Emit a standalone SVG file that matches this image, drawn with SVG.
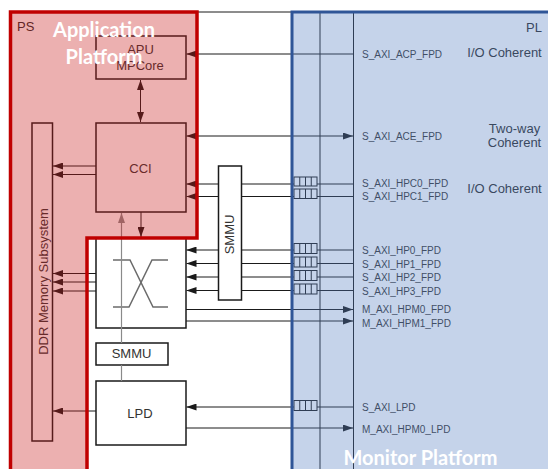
<svg xmlns="http://www.w3.org/2000/svg" width="548" height="469" viewBox="0 0 548 469">
<defs>
<style>
.ln{stroke:#1a1a1a;stroke-width:1;fill:none}
.gl{stroke:#8a8a8a;stroke-width:1.2;fill:none}
.box{fill:#fff;stroke:#1a1a1a;stroke-width:1.5}
.fifo{fill:#fff;stroke:#1a1a1a;stroke-width:1}
.xb{stroke:#6b6b6b;stroke-width:1.5;fill:none}
.lbl{font-family:"Liberation Sans",Arial,sans-serif;font-size:13px;fill:#333;text-anchor:middle}
.port{font-family:"Liberation Sans",Arial,sans-serif;font-size:10px;fill:#333}
.cap{font-family:"Liberation Sans",Arial,sans-serif;font-size:13px;fill:#2a2a2a}
.ov{font-family:Lato,"Open Sans",sans-serif;font-weight:bold;font-size:20px;fill:#fff;text-anchor:middle}
</style>
<marker id="ah" viewBox="0 0 10 7" refX="10" refY="3.5" markerWidth="10" markerHeight="7" markerUnits="userSpaceOnUse" orient="auto-start-reverse"><path d="M0,0 L10,3.5 L0,7 z" fill="#1a1a1a"/></marker>
<marker id="ahg" viewBox="0 0 10 7" refX="10" refY="3.5" markerWidth="10" markerHeight="7" markerUnits="userSpaceOnUse" orient="auto"><path d="M0,0 L10,3.5 L0,7 z" fill="#8a8a8a"/></marker>
</defs>
<rect x="0" y="0" width="548" height="469" fill="#fff"/>

<g id="frame">
<line class="ln" x1="10" y1="12" x2="292" y2="12"/>
<line class="ln" x1="320" y1="12" x2="320" y2="469"/>
<line class="ln" x1="353.5" y1="12" x2="353.5" y2="469"/>
<text class="cap" x="17" y="30.5">PS</text>
<text class="cap" x="526" y="31.5">PL</text>
</g>

<g id="apu"><rect class="box" x="96" y="36" width="90" height="43"/><text class="lbl" x="140.5" y="54">APU</text><text class="lbl" x="140" y="70">MPCore</text></g>
<g id="cci"><rect class="box" x="96" y="123" width="90" height="89"/><text class="lbl" x="140.5" y="172.5">CCI</text></g>
<g id="ddr"><rect class="box" x="32" y="123" width="20.5" height="318"/><text class="lbl" transform="translate(47.5,281.5) rotate(-90)">DDR Memory Subsystem</text></g>
<g id="crossbar"><rect class="box" x="96" y="238" width="90" height="90"/><path class="xb" d="M113,260 H130 L153,307 H168"/><path class="xb" d="M113,307 H129 L152,260 H168"/></g>
<g id="smmu-v"><rect class="box" x="218.5" y="166" width="23" height="134"/><text class="lbl" transform="translate(234,234.5) rotate(-90)">SMMU</text></g>
<g id="smmu-h"><rect class="box" x="96" y="343" width="72" height="22"/><text class="lbl" x="131.5" y="358">SMMU</text></g>
<g id="lpd"><rect class="box" x="96" y="381" width="90" height="64"/><text class="lbl" x="140" y="418">LPD</text></g>

<g id="connectors">
<line class="ln" x1="353.5" y1="54" x2="186.5" y2="54" marker-end="url(#ah)"/>
<line class="ln" x1="140.5" y1="80" x2="140.5" y2="122" marker-start="url(#ah)" marker-end="url(#ah)"/>
<line class="ln" x1="186.5" y1="136" x2="353" y2="136" marker-start="url(#ah)" marker-end="url(#ah)"/>
<line class="ln" x1="218.5" y1="184" x2="186.5" y2="184" marker-end="url(#ah)"/>
<line class="ln" x1="353.5" y1="184" x2="241.5" y2="184"/>
<line class="ln" x1="218.5" y1="196.5" x2="186.5" y2="196.5" marker-end="url(#ah)"/>
<line class="ln" x1="353.5" y1="196.5" x2="241.5" y2="196.5"/>
<line class="ln" x1="96" y1="166" x2="53" y2="166" marker-end="url(#ah)"/>
<line class="ln" x1="96" y1="174.5" x2="53" y2="174.5" marker-end="url(#ah)"/>
<line class="ln" x1="141" y1="212" x2="141" y2="237" marker-end="url(#ah)"/>
<line class="ln" x1="218.5" y1="250" x2="186.5" y2="250" marker-end="url(#ah)"/>
<line class="ln" x1="353.5" y1="250" x2="241.5" y2="250"/>
<line class="ln" x1="218.5" y1="263.5" x2="186.5" y2="263.5" marker-end="url(#ah)"/>
<line class="ln" x1="353.5" y1="263.5" x2="241.5" y2="263.5"/>
<line class="ln" x1="218.5" y1="277" x2="186.5" y2="277" marker-end="url(#ah)"/>
<line class="ln" x1="353.5" y1="277" x2="241.5" y2="277"/>
<line class="ln" x1="218.5" y1="290.5" x2="186.5" y2="290.5" marker-end="url(#ah)"/>
<line class="ln" x1="353.5" y1="290.5" x2="241.5" y2="290.5"/>
<line class="ln" x1="96" y1="273.5" x2="53" y2="273.5" marker-end="url(#ah)"/>
<line class="ln" x1="96" y1="282" x2="53" y2="282" marker-end="url(#ah)"/>
<line class="ln" x1="96" y1="291" x2="53" y2="291" marker-end="url(#ah)"/>
<line class="ln" x1="186" y1="309.5" x2="353" y2="309.5" marker-end="url(#ah)"/>
<line class="ln" x1="186" y1="321" x2="353" y2="321" marker-end="url(#ah)"/>
<line class="gl" x1="121.5" y1="343" x2="121.5" y2="213" marker-end="url(#ahg)"/>
<line class="gl" x1="121.5" y1="365" x2="121.5" y2="381"/>
<line class="ln" x1="96" y1="411" x2="53" y2="411" marker-end="url(#ah)"/>
<line class="ln" x1="353.5" y1="407" x2="186.5" y2="407" marker-end="url(#ah)"/>
<line class="ln" x1="186" y1="428" x2="353" y2="428" marker-end="url(#ah)"/>
</g>

<g id="fifos">
<g id="fifo-hpc0"><rect class="fifo" x="294" y="177" width="23" height="9"/><path class="ln" d="M299.75,177v9M305.5,177v9M311.25,177v9"/></g>
<g id="fifo-hpc1"><rect class="fifo" x="294" y="189" width="23" height="9.5"/><path class="ln" d="M299.75,189v9.5M305.5,189v9.5M311.25,189v9.5"/></g>
<g id="fifo-hp0"><rect class="fifo" x="294" y="243.5" width="23" height="10"/><path class="ln" d="M299.75,243.5v10M305.5,243.5v10M311.25,243.5v10"/></g>
<g id="fifo-hp1"><rect class="fifo" x="294" y="257" width="23" height="10"/><path class="ln" d="M299.75,257v10M305.5,257v10M311.25,257v10"/></g>
<g id="fifo-hp2"><rect class="fifo" x="294" y="270.5" width="23" height="10"/><path class="ln" d="M299.75,270.5v10M305.5,270.5v10M311.25,270.5v10"/></g>
<g id="fifo-hp3"><rect class="fifo" x="294" y="284" width="23" height="10"/><path class="ln" d="M299.75,284v10M305.5,284v10M311.25,284v10"/></g>
<g id="fifo-lpd"><rect class="fifo" x="294" y="400.5" width="23" height="10"/><path class="ln" d="M299.75,400.5v10M305.5,400.5v10M311.25,400.5v10"/></g>
</g>

<g id="ports">
<text class="port" x="362" y="57.5">S_AXI_ACP_FPD</text>
<text class="port" x="362" y="140">S_AXI_ACE_FPD</text>
<text class="port" x="362" y="187.3">S_AXI_HPC0_FPD</text>
<text class="port" x="362" y="200">S_AXI_HPC1_FPD</text>
<text class="port" x="362" y="254">S_AXI_HP0_FPD</text>
<text class="port" x="362" y="267.5">S_AXI_HP1_FPD</text>
<text class="port" x="362" y="281">S_AXI_HP2_FPD</text>
<text class="port" x="362" y="294.5">S_AXI_HP3_FPD</text>
<text class="port" x="362" y="313">M_AXI_HPM0_FPD</text>
<text class="port" x="362" y="326.5">M_AXI_HPM1_FPD</text>
<text class="port" x="362" y="410.5">S_AXI_LPD</text>
<text class="port" x="362" y="432.5">M_AXI_HPM0_LPD</text>
<text class="cap" x="467.3" y="56.7">I/O Coherent</text>
<text class="cap" x="514.5" y="133.3" text-anchor="middle">Two-way</text>
<text class="cap" x="514.5" y="146.7" text-anchor="middle">Coherent</text>
<text class="cap" x="467.3" y="193.3">I/O Coherent</text>
</g>

<g id="application-platform">
<path d="M10.5,12 H197 V238 H87 V475 H10.5 Z" fill="rgb(200,28,28)" fill-opacity="0.35" stroke="#c00000" stroke-width="3.5" stroke-linejoin="miter"/>
<text class="ov" x="104" y="37">Application</text>
<text class="ov" x="104" y="63.5">Platform</text>
</g>
<g id="monitor-platform">
<rect x="292" y="12" width="270" height="470" fill="rgb(89,129,195)" fill-opacity="0.35" stroke="#2f5597" stroke-width="3"/>
<text class="ov" x="420.5" y="465">Monitor Platform</text>
</g>
</svg>
